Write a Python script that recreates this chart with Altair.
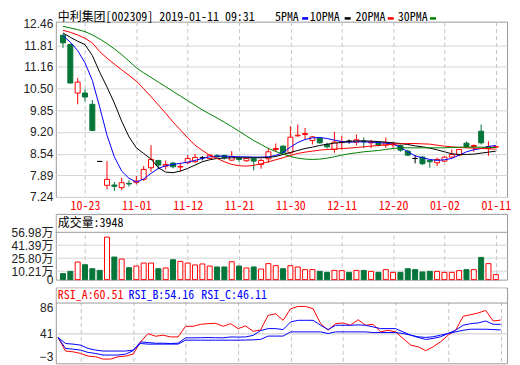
import altair as alt
import pandas as pd
import numpy as np

# ---------------- data ----------------
dates = ["10-18","10-19","10-22","10-23","10-24","10-25","10-26","10-29","10-30","10-31",
         "11-01","11-02","11-05","11-06","11-07","11-08","11-09","11-12","11-13","11-14",
         "11-15","11-16","11-19","11-20","11-21","11-22","11-23","11-26","11-27","11-28",
         "11-29","11-30","12-03","12-04","12-05","12-06","12-07","12-10","12-11","12-12",
         "12-13","12-14","12-17","12-18","12-19","12-20","12-21","12-24","12-25","12-26",
         "12-27","12-28","01-02","01-03","01-04","01-07","01-08","01-09","01-10","01-11"]

open_ = [12.11, 11.83, 10.37, 10.37, 10.03, 8.31, 7.59, 7.60, 7.52, 7.65,
         7.68, 7.77, 8.12, 8.34, 8.17, 8.26, 8.14, 8.27, 8.30, 8.42,
         8.40, 8.48, 8.49, 8.35, 8.40, 8.33, 8.39, 8.22, 8.39, 8.67,
         8.77, 8.57, 9.08, 9.12, 8.94, 9.01, 8.82, 8.67, 8.88, 8.92,
         8.89, 8.92, 8.87, 8.88, 8.80, 8.81, 8.79, 8.62, 8.40, 8.44,
         8.34, 8.27, 8.32, 8.44, 8.50, 8.86, 8.76, 9.22, 8.70, 8.74]
high = [12.15, 11.86, 10.82, 10.48, 10.16, 8.31, 8.32, 7.69, 7.82, 7.74,
        7.87, 8.17, 8.80, 8.34, 8.34, 8.30, 8.27, 8.50, 8.54, 8.47,
        8.52, 8.53, 8.51, 8.62, 8.42, 8.42, 8.44, 8.39, 8.72, 8.85,
        8.80, 9.37, 9.42, 9.32, 9.07, 9.04, 8.87, 9.20, 9.07, 8.97,
        9.12, 9.03, 8.96, 8.90, 9.03, 8.90, 8.82, 8.66, 8.50, 8.47,
        8.34, 8.42, 8.47, 8.67, 8.67, 8.91, 8.82, 9.42, 8.92, 8.78]
low = [11.73, 10.67, 10.03, 10.12, 9.24, 8.31, 7.47, 7.42, 7.45, 7.55,
       7.62, 7.72, 8.00, 8.07, 8.07, 8.10, 8.00, 8.24, 8.27, 8.34,
       8.38, 8.40, 8.37, 8.33, 8.30, 8.30, 8.04, 8.09, 8.27, 8.59,
       8.55, 8.52, 9.06, 8.97, 8.82, 8.85, 8.70, 8.57, 8.67, 8.84,
       8.79, 8.71, 8.71, 8.76, 8.72, 8.72, 8.60, 8.47, 8.25, 8.20,
       8.12, 8.17, 8.29, 8.42, 8.47, 8.72, 8.60, 8.82, 8.48, 8.72]
close = [11.88, 10.67, 10.70, 10.25, 9.24, 8.31, 7.77, 7.56, 7.67, 7.63,
         7.72, 8.07, 8.37, 8.20, 8.22, 8.15, 8.16, 8.40, 8.43, 8.42,
         8.50, 8.45, 8.43, 8.45, 8.37, 8.40, 8.32, 8.34, 8.60, 8.70,
         8.57, 9.04, 9.10, 9.15, 9.05, 8.87, 8.75, 8.89, 8.91, 8.92,
         8.96, 8.90, 8.89, 8.79, 8.87, 8.84, 8.65, 8.50, 8.40, 8.24,
         8.30, 8.37, 8.44, 8.52, 8.67, 8.76, 8.79, 8.87, 8.76, 8.76]

ma5 = [12.10, 11.90, 11.65, 11.28, 10.75, 9.95, 9.10, 8.45, 8.02, 7.80,
       7.69, 7.78, 7.95, 8.10, 8.18, 8.22, 8.25, 8.29, 8.34, 8.40,
       8.45, 8.47, 8.47, 8.46, 8.45, 8.45, 8.44, 8.44, 8.45, 8.49,
       8.58, 8.74, 8.88, 8.97, 9.02, 9.03, 9.00, 8.95, 8.91, 8.89,
       8.90, 8.90, 8.89, 8.88, 8.86, 8.83, 8.74, 8.60, 8.48, 8.42,
       8.37, 8.34, 8.36, 8.40, 8.50, 8.60, 8.66, 8.70, 8.76, 8.79]
ma10 = [12.18, 12.05, 11.93, 11.83, 11.50, 11.00, 10.55, 10.07, 9.52, 9.05,
        8.72, 8.55, 8.38, 8.12, 7.99, 7.97, 8.02, 8.10, 8.20, 8.30,
        8.36, 8.40, 8.41, 8.42, 8.42, 8.42, 8.42, 8.42, 8.43, 8.46,
        8.52, 8.58, 8.64, 8.70, 8.74, 8.79, 8.83, 8.86, 8.88, 8.91,
        8.93, 8.93, 8.92, 8.91, 8.89, 8.87, 8.85, 8.82, 8.78, 8.75,
        8.71, 8.66, 8.60, 8.54, 8.52, 8.52, 8.53, 8.56, 8.59, 8.62]
ma20 = [12.26, 12.20, 12.12, 12.02, 11.88, 11.62, 11.42, 11.24, 11.07, 10.90,
        10.73, 10.50, 10.26, 10.01, 9.76, 9.50, 9.26, 9.02, 8.80, 8.64,
        8.50, 8.40, 8.30, 8.22, 8.18, 8.17, 8.19, 8.24, 8.30, 8.36,
        8.42, 8.49, 8.55, 8.59, 8.62, 8.65, 8.67, 8.68, 8.70, 8.71,
        8.73, 8.75, 8.77, 8.79, 8.81, 8.83, 8.84, 8.85, 8.85, 8.84,
        8.83, 8.80, 8.77, 8.75, 8.73, 8.72, 8.71, 8.70, 8.69, 8.68]
ma30 = [12.38, 12.33, 12.28, 12.22, 12.12, 12.00, 11.86, 11.70, 11.53, 11.33,
        11.13, 10.98, 10.84, 10.70, 10.56, 10.42, 10.28, 10.14, 10.00, 9.86,
        9.74, 9.62, 9.49, 9.36, 9.22, 9.08, 8.94, 8.82, 8.70, 8.61,
        8.53, 8.46, 8.41, 8.38, 8.37, 8.38, 8.41, 8.45, 8.50, 8.54,
        8.57, 8.60, 8.62, 8.64, 8.67, 8.70, 8.72, 8.72, 8.72, 8.72,
        8.72, 8.72, 8.72, 8.73, 8.74, 8.74, 8.74, 8.74, 8.73, 8.73]

volume = [7.2, 9.9, 21.1, 17.9, 13.1, 11.1, 51.0, 27.1, 24.7, 14.3,
          16.3, 19.9, 19.9, 13.1, 14.0, 23.9, 21.9, 19.9, 17.6, 18.8,
          16.3, 15.2, 15.2, 21.5, 16.3, 14.0, 15.2, 12.7, 19.2, 16.7,
          13.1, 16.7, 15.2, 12.0, 12.0, 9.9, 8.7, 11.1, 10.8, 8.7,
          11.1, 11.1, 9.9, 8.7, 12.0, 8.7, 8.7, 13.1, 12.0, 9.2,
          9.9, 9.9, 8.7, 8.7, 10.8, 12.0, 12.0, 26.7, 19.2, 6.0]
vol_up = [0, 0, 1, 0, 0, 0, 1, 0, 1, 0,
          1, 1, 1, 0, 1, 0, 1, 1, 1, 1,
          1, 0, 0, 1, 0, 1, 0, 1, 1, 1,
          0, 1, 1, 1, 1, 0, 0, 1, 1, 0,
          1, 0, 1, 0, 1, 1, 0, 0, 0, 0,
          0, 1, 1, 1, 1, 0, 1, 0, 1, 1]

rsi_a = [34.9, 14.9, 13.9, 11.5, 7.6, 6.6, 3.2, 3.2, 6.6, 7.6,
         10.5, 28.5, 40.7, 36.8, 38.3, 35.8, 35.8, 51.4, 51.4, 54.3,
         55.3, 55.8, 51.4, 55.3, 48.0, 52.0, 44.0, 46.0, 67.5, 69.9,
         60.2, 77.2, 80.6, 80.6, 77.2, 55.3, 45.6, 55.3, 56.3, 52.9,
         61.1, 52.9, 54.4, 43.2, 45.6, 43.2, 33.5, 23.8, 21.3, 15.5,
         21.3, 28.6, 38.4, 45.6, 66.1, 68.5, 70.9, 74.8, 59.2, 60.51]
rsi_b = [34.9, 18.8, 17.8, 16.4, 13.0, 11.5, 9.1, 9.1, 9.1, 10.5,
         15.5, 28.5, 27.5, 26.5, 26.5, 26.1, 26.5, 34.4, 34.4, 34.6,
         34.8, 34.6, 34.4, 35.8, 35.5, 35.8, 38.0, 45.0, 48.0, 48.0,
         46.6, 57.8, 60.2, 60.2, 60.2, 52.9, 46.6, 52.9, 52.9, 52.9,
         53.5, 52.9, 50.5, 48.0, 48.0, 48.0, 43.2, 38.4, 35.0, 32.1,
         33.5, 36.0, 40.8, 45.6, 52.9, 55.3, 56.3, 59.2, 54.4, 54.16]
rsi_c = [34.9, 26.1, 25.2, 23.7, 18.8, 16.4, 15.0, 15.0, 15.0, 15.0,
         16.4, 26.1, 25.2, 25.2, 25.2, 25.2, 25.2, 31.0, 31.0, 31.0,
         31.0, 31.0, 31.0, 31.0, 31.0, 31.2, 31.5, 32.1, 37.0, 37.0,
         37.0, 43.2, 43.2, 43.2, 43.2, 43.2, 40.8, 43.2, 43.2, 43.2,
         43.2, 43.2, 42.2, 42.2, 42.2, 42.2, 40.8, 38.4, 36.0, 35.0,
         36.0, 38.4, 40.8, 43.2, 45.6, 47.1, 47.1, 47.1, 46.6, 46.11]

price_ticks = [7.24, 7.89, 8.54, 9.20, 9.85, 10.50, 11.16, 11.81, 12.46]
vol_ticks = [0, 10.21, 25.80, 41.39, 56.98]
rsi_ticks = [-3, 41, 86]
date_ticks = [3, 10, 17, 24, 31, 38, 45, 52, 59]

title_str = "中利集团[002309] 2019-01-11 09:31"
vol_header = "成交量:3948"
ma_names = ["5PMA", "10PMA", "20PMA", "30PMA"]
rsi_names = ["RSI_A:60.51", "RSI_B:54.16", "RSI_C:46.11"]

# ---------------- styles ----------------
RED = "#ff0000"
GREEN = "#06753a"
BLUE = "#0000ff"
BLACK = "#000000"
DGREEN = "#008000"
MONO = "Noto Sans Mono CJK SC, Noto Sans CJK SC, monospace"
LABEL = "Liberation Sans, Noto Sans CJK SC, sans-serif"
W = 453
GRIDX = "#c4c4c4"
GRIDY = "#d6d6d6"

idx = list(range(len(dates)))
cd = pd.DataFrame({"i": idx, "open": open_, "high": high, "low": low, "close": close})
cd["lo"] = cd[["open", "close"]].min(axis=1)
cd["hi"] = cd[["open", "close"]].max(axis=1)
cd["kind"] = np.select([cd["close"] > cd["open"], cd["close"] < cd["open"]], ["up", "down"], "flat")

ma_df = pd.DataFrame({
    "i": idx * 4,
    "series": sum([[n] * len(idx) for n in ma_names], []),
    "value": ma5 + ma10 + ma20 + ma30,
})
vol_df = pd.DataFrame({"i": idx, "vol": volume, "dir": ["up" if u else "down" for u in vol_up]})
rsi_df = pd.DataFrame({
    "i": idx * 3,
    "series": sum([[n] * len(idx) for n in ["A", "B", "C"]], []),
    "value": rsi_a + rsi_b + rsi_c,
})
dummy = pd.DataFrame({"k": [0]})

KIND = ["up", "down", "flat"]
stroke_kind = alt.Scale(domain=KIND, range=[RED, GREEN, BLACK])
fill_kind = alt.Scale(domain=KIND, range=["#ffffff", GREEN, BLACK])

XS = alt.Scale(domain=[-0.3, 59.85], nice=False, zero=False)
label_expr = "[" + ",".join("'" + d + "'" for d in dates) + "][datum.value]"

x_main = alt.X("i:Q", scale=XS, axis=alt.Axis(
    values=date_ticks, labelExpr=label_expr, title=None, grid=True, gridDash=[4, 3],
    gridColor=GRIDX, ticks=False, domain=False, labelColor=RED, labelFont=MONO,
    labelFontSize=12, labelPadding=4, labelFlush=False, labelOverlap=False))
x_sub = alt.X("i:Q", scale=XS, axis=alt.Axis(
    values=date_ticks, labels=False, ticks=False, domain=False, title=None,
    grid=True, gridDash=[4, 3], gridColor=GRIDX))

YS = alt.Scale(domain=[7.24, 12.52], nice=False, zero=False)
YA = alt.Axis(values=price_ticks, format=".2f", title=None, ticks=False, domain=False,
              grid=True,
              gridColor={"condition": {"test": "datum.value > 12.4", "value": "transparent"}, "value": GRIDY},
              labelFlush=False, labelOverlap=False, labelPadding=3)

# ---------------- main panel ----------------
wicks = alt.Chart(cd).mark_rule(strokeWidth=1).encode(
    x=x_main, y=alt.Y("low:Q", scale=YS, axis=YA), y2="high:Q",
    stroke=alt.Stroke("kind:N", scale=stroke_kind, legend=None))
bodies = alt.Chart(cd).mark_bar(size=5, strokeWidth=1, orient="vertical").encode(
    x=x_main, y=alt.Y("lo:Q", scale=YS, axis=YA), y2="hi:Q",
    fill=alt.Fill("kind:N", scale=fill_kind, legend=None),
    stroke=alt.Stroke("kind:N", scale=stroke_kind, legend=None))
ma_lines = alt.Chart(ma_df).mark_line(strokeWidth=1).encode(
    x=x_main, y=alt.Y("value:Q", scale=YS, axis=YA),
    color=alt.Color("series:N", scale=alt.Scale(domain=ma_names[::-1], range=[DGREEN, RED, BLACK, BLUE]), legend=None))

title_layer = alt.Chart(dummy).mark_text(align="left", baseline="middle", font=MONO, fontSize=12,
                                         color=BLACK, text=title_str).encode(x=alt.value(2), y=alt.value(-5))
legend_layers = []
text_x = [220, 255, 301, 343.3]
sw_x = [247.3, 290, 333.3, 375.7]
for name, col, tx, sx in zip(ma_names, [BLUE, BLACK, RED, DGREEN], text_x, sw_x):
    legend_layers.append(alt.Chart(dummy).mark_text(align="left", baseline="middle", font=MONO, fontSize=12,
                                                    color=BLACK, text=name).encode(x=alt.value(tx), y=alt.value(-5)))
    legend_layers.append(alt.Chart(dummy).mark_rect(fill=col, stroke=None).encode(
        x=alt.value(sx), x2=alt.value(sx + 6), y=alt.value(-4.5), y2=alt.value(-2)))

p1 = alt.layer(wicks, bodies, ma_lines, title_layer, *legend_layers).properties(width=W, height=176)

# ---------------- volume panel ----------------
VY = alt.Y("vol:Q", scale=alt.Scale(domain=[0, 78.9], nice=False, zero=True), axis=alt.Axis(
    values=vol_ticks, labelExpr="datum.value == 0 ? '0' : format(datum.value, '.2f') + '万'",
    title=None, ticks=False, domain=False, grid=True,
    gridColor={"condition": {"test": "datum.value == 0 || datum.value > 56", "value": "transparent"}, "value": GRIDY},
    labelFlush=False, labelOverlap=False, labelPadding=3))
vol_bars = alt.Chart(vol_df).mark_bar(size=5, strokeWidth=1, orient="vertical").encode(
    x=x_sub, y=VY,
    fill=alt.Fill("dir:N", scale=alt.Scale(domain=["up", "down"], range=["#ffffff", GREEN]), legend=None),
    stroke=alt.Stroke("dir:N", scale=alt.Scale(domain=["up", "down"], range=[RED, GREEN]), legend=None))
vol_mask = alt.Chart(dummy).mark_rect(fill="white").encode(
    x=alt.value(1), x2=alt.value(W - 1), y=alt.value(1), y2=alt.value(18))
vol_line = alt.Chart(dummy).mark_rule(color="#999999", strokeWidth=1).encode(
    x=alt.value(0), x2=alt.value(W), y=alt.value(18.5))
vol_text = alt.Chart(dummy).mark_text(align="left", baseline="middle", font=MONO, fontSize=12,
                                      color=BLACK, text=vol_header).encode(x=alt.value(2), y=alt.value(9))
p2 = alt.layer(vol_mask, vol_bars, vol_line, vol_text).properties(width=W, height=66)

# ---------------- RSI panel ----------------
RY = alt.Y("value:Q", scale=alt.Scale(domain=[-3, 108.3], nice=False, zero=False), axis=alt.Axis(
    values=rsi_ticks, format="d", title=None, ticks=False, domain=False, grid=True,
    gridColor={"condition": {"test": "datum.value == 41", "value": "#c8c8c8"}, "value": "transparent"},
    labelBaseline={"condition": [{"test": "datum.value == 86", "value": "top"},
                                 {"test": "datum.value == -3", "value": "bottom"}], "value": "middle"},
    labelFlush=False, labelOverlap=False, labelPadding=3))
rsi_lines = alt.Chart(rsi_df).mark_line(strokeWidth=1).encode(
    x=x_sub, y=RY,
    color=alt.Color("series:N", scale=alt.Scale(domain=["C", "B", "A"], range=[BLUE, BLUE, RED]), legend=None))
rsi_mask = alt.Chart(dummy).mark_rect(fill="white").encode(
    x=alt.value(1), x2=alt.value(W - 1), y=alt.value(1), y2=alt.value(15))
rsi_line = alt.Chart(dummy).mark_rule(color="#999999", strokeWidth=1).encode(
    x=alt.value(0), x2=alt.value(W), y=alt.value(15.5))
rsi_texts = []
for name, col, tx in zip(rsi_names, [RED, BLUE, BLUE], [2, 73, 146]):
    rsi_texts.append(alt.Chart(dummy).mark_text(align="left", baseline="middle", font=MONO, fontSize=12,
                                                color=col, text=name).encode(x=alt.value(tx), y=alt.value(7.5)))
p3 = alt.layer(rsi_mask, rsi_lines, rsi_line, *rsi_texts).properties(width=W, height=76)

chart = alt.vconcat(p1, p2, p3, spacing=0).resolve_scale(
    color="independent", fill="independent", stroke="independent"
).properties(
    padding={"left": 2, "top": 1, "right": 0, "bottom": 0}
).configure_view(stroke="#999999", strokeWidth=1).configure_axis(
    labelFont=LABEL, labelFontSize=12, labelColor="#222222")

chart.save("out.html", embed_options={"renderer": "svg", "actions": False})
